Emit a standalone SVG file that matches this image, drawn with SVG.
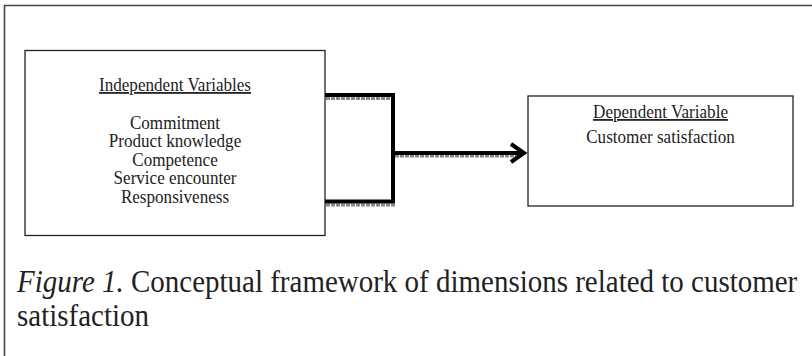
<svg xmlns="http://www.w3.org/2000/svg" width="812" height="356" viewBox="0 0 812 356">
<style>
.box{fill:#fff;stroke:#222;stroke-width:1.3}
.t{font-family:"Liberation Serif","Times New Roman",serif;font-size:18px;fill:#222;text-anchor:middle}
.u{text-decoration:underline}
.blk{fill:none;stroke:#000;stroke-width:4;stroke-linejoin:miter}
.shd{fill:none;stroke:#888;stroke-width:3;stroke-dasharray:4 1}
.cap{font-family:"Liberation Serif","Times New Roman",serif;font-size:31px;fill:#222}
</style>
<rect width="812" height="356" fill="#fff"/>
<path d="M4.5,360 V5.5 H812" fill="none" stroke="#444" stroke-width="1.6"/>
<g id="independent">
<rect class="box" x="25" y="50.5" width="300" height="185"/>
<g transform="translate(175,0) scale(0.95,1)">
<text class="t u" x="0" y="91">Independent Variables</text>
<text class="t" x="0" y="129">Commitment</text>
<text class="t" x="0" y="147.5">Product knowledge</text>
<text class="t" x="0" y="166">Competence</text>
<text class="t" x="0" y="184.5">Service encounter</text>
<text class="t" x="0" y="203">Responsiveness</text>
</g>
</g>
<g id="dependent">
<rect class="box" x="528" y="96" width="265" height="110"/>
<g transform="translate(660.5,0) scale(0.95,1)">
<text class="t u" x="0" y="118">Dependent Variable</text>
<text class="t" x="0" y="143">Customer satisfaction</text>
</g>
</g>
<g id="connectors">
<path class="shd" d="M326,98.5 H393"/>
<path class="shd" d="M326,205 H395"/>
<path class="shd" d="M395,156 H520"/>
<path class="blk" d="M325,95 H393 V201.5 H325"/>
<path class="blk" d="M393,153 H522"/>
<path class="blk" d="M511,144 L524,153 L511,162"/>
</g>
<g id="caption" transform="translate(17,0) scale(0.935,1)">
<text class="cap" x="0" y="292"><tspan font-style="italic">Figure 1.</tspan> Conceptual framework of dimensions related to customer</text>
<text class="cap" x="0" y="326">satisfaction</text>
</g>
</svg>
